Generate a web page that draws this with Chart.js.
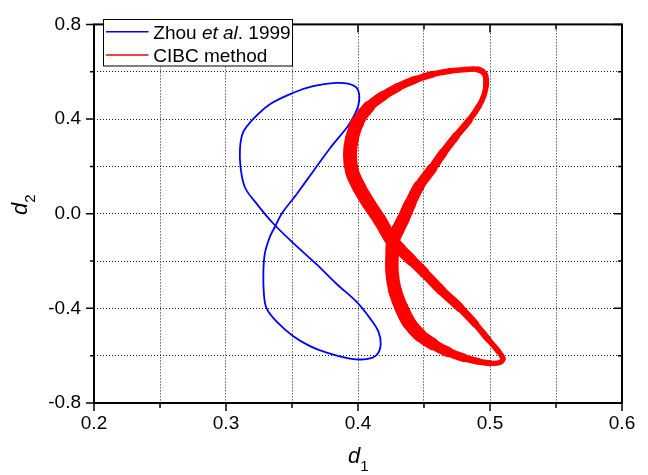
<!DOCTYPE html>
<html><head><meta charset="utf-8">
<script src="https://cdn.jsdelivr.net/npm/chart.js@4.4.1/dist/chart.umd.min.js"></script>
<style>html,body{margin:0;padding:0;background:#fff}#c{display:block}</style>
</head><body>
<canvas id="c" width="648" height="475"></canvas>
<script>
// ---- data ----
const seriesNames = ['Zhou et al. 1999', 'CIBC method'];
const xTickLabels = ['0.2', '0.3', '0.4', '0.5', '0.6'];
const yTickLabels = ['-0.8', '-0.4', '0.0', '0.4', '0.8'];

const zhouD1 = [0.3536,0.3661,0.3788,0.3927,0.3977,0.4002,0.4010,0.3990,0.3924,0.3839,0.3661,0.3510,0.3333,0.3207,0.3131,0.3106,0.3111,0.3144,0.3233,0.3358,0.3510,0.3687,0.3839,0.3990,0.4091,0.4154,0.4172,0.4142,0.4066,0.3939,0.3763,0.3636,0.3510,0.3384,0.3308,0.3288,0.3283,0.3295,0.3333,0.3371,0.3422,0.3536];
const zhouD2 = [0.0829,0.1795,0.2765,0.3731,0.4216,0.4560,0.4974,0.5318,0.5492,0.5526,0.5389,0.5111,0.4630,0.4008,0.3453,0.2765,0.1936,0.1107,0.0415,-0.0414,-0.1244,-0.2143,-0.2972,-0.3730,-0.4423,-0.4974,-0.5525,-0.5969,-0.6147,-0.6122,-0.5873,-0.5596,-0.5181,-0.4560,-0.4008,-0.3453,-0.2487,-0.1658,-0.0966,-0.0551,0.0000,0.0829];

const cibcD1 = [0.4811,0.4697,0.4561,0.4432,0.4303,0.4189,0.4083,0.4000,0.3955,0.3939,0.3955,0.4008,0.4083,0.4167,0.4250,0.4318,0.4402,0.4500,0.4629,0.4773,0.4886,0.4985,0.5061,0.5098,0.5068,0.5000,0.4909,0.4803,0.4682,0.4568,0.4470,0.4386,0.4326,0.4280,0.4258,0.4258,0.4265,0.4303,0.4341,0.4394,0.4462,0.4561,0.4644,0.4742,0.4841,0.4917,0.4955,0.4970,0.4962,0.4909,0.4811];
const cibcD2 = [0.6093,0.6031,0.5886,0.5658,0.5347,0.4974,0.4518,0.3896,0.3192,0.2487,0.1782,0.1119,0.0415,-0.0290,-0.1078,-0.1492,-0.1948,-0.2487,-0.3233,-0.3979,-0.4642,-0.5306,-0.5803,-0.6135,-0.6301,-0.6321,-0.6238,-0.6093,-0.5845,-0.5513,-0.5140,-0.4601,-0.3938,-0.3233,-0.2487,-0.1782,-0.1161,-0.0663,-0.0249,0.0415,0.1161,0.1907,0.2570,0.3275,0.3938,0.4560,0.5016,0.5430,0.5886,0.6093,0.6093];

// ---- style: stroke width (px) of the CIBC band at each point ----
const cibcBandPx = [5.5,5.5,6.5,7.5,8.5,9.5,11,13,14,14,14,14,13.5,13.5,13,12,11,10,9.5,8.5,7,6,5.5,5.5,5,5.5,6.5,7.5,9.5,11.5,13,14,14,13.5,13.5,13.5,13.5,13,13,12,11,9.5,8.5,7.5,6.5,5.5,5.5,5.5,6.5,5.5,5.5];

const FONT = '"Liberation Sans", Arial, sans-serif';
const BLUE = '#0000ff', RED = '#ff0000';
const pts = (xs, ys) => xs.map((v, i) => ({x: v, y: ys[i]}));
const findLabel = (arr, v) => { const s = arr.find(t => Math.abs(parseFloat(t) - v) < 1e-6); return s === undefined ? '' : s; };

const decor = {
  id: 'decor',
  afterDraw(chart) {
    const {ctx, chartArea: a, scales: {x, y}} = chart;
    ctx.save();
    // ticks
    ctx.strokeStyle = '#000'; ctx.lineWidth = 1.5;
    ctx.beginPath();
    x.ticks.forEach(t => {
      const px = x.getPixelForValue(t.value);
      const L = findLabel(xTickLabels, t.value) ? 8 : 5;
      ctx.moveTo(px, a.bottom); ctx.lineTo(px, a.bottom + L);
      ctx.moveTo(px, a.top); ctx.lineTo(px, a.top + L);
    });
    y.ticks.forEach(t => {
      const py = y.getPixelForValue(t.value);
      const L = findLabel(yTickLabels, t.value) ? 8 : 4;
      ctx.moveTo(a.left, py); ctx.lineTo(a.left - L, py);
      ctx.moveTo(a.right, py); ctx.lineTo(a.right - L, py);
    });
    ctx.stroke();
    // frame
    ctx.lineWidth = 2;
    ctx.strokeRect(a.left, a.top, a.right - a.left, a.bottom - a.top);

    // legend
    const lx = 103.5, ly = 19.5, lw = 189, lh = 46.5;
    ctx.fillStyle = '#fff'; ctx.fillRect(lx, ly, lw, lh);
    ctx.lineWidth = 1; ctx.strokeStyle = '#000'; ctx.strokeRect(lx, ly, lw, lh);
    ctx.lineWidth = 1.6;
    ctx.strokeStyle = BLUE; ctx.beginPath(); ctx.moveTo(106, 31.7); ctx.lineTo(148.5, 31.7); ctx.stroke();
    ctx.strokeStyle = RED; ctx.beginPath(); ctx.moveTo(106, 55); ctx.lineTo(148.5, 55); ctx.stroke();
    ctx.fillStyle = '#000'; ctx.textBaseline = 'alphabetic'; ctx.textAlign = 'left';
    const reg = '19px ' + FONT, ita = 'italic 19px ' + FONT;
    // "Zhou et al. 1999" with italic "et al."
    const parts = [['Zhou ', reg], ['et al', ita], ['. 1999', reg]];
    let tx = 153.3;
    parts.forEach(([s, f]) => { ctx.font = f; ctx.fillText(s, tx, 38.5); tx += ctx.measureText(s).width; });
    ctx.font = reg; ctx.fillText(seriesNames[1], 153.3, 61.7);

    // axis titles
    ctx.font = 'italic 22px ' + FONT;
    ctx.fillText('d', 348, 463);
    let dw = ctx.measureText('d').width;
    ctx.font = '15px ' + FONT;
    ctx.fillText('1', 348 + dw, 470.5);

    ctx.translate(27, 215);
    ctx.rotate(-Math.PI / 2);
    ctx.font = 'italic 22px ' + FONT;
    ctx.fillText('d', 0, 0);
    ctx.font = '15px ' + FONT;
    ctx.fillText('2', dw, 7.5);
    ctx.restore();
  }
};

new Chart(document.getElementById('c'), {
  type: 'scatter',
  data: {
    datasets: [
      {
        label: seriesNames[1],
        data: pts(cibcD1, cibcD2),
        showLine: true, fill: false, order: 0,
        borderColor: RED, borderWidth: 10,
        borderCapStyle: 'round', borderJoinStyle: 'round',
        tension: 0.35, pointRadius: 0, pointHoverRadius: 0,
        segment: { borderWidth: c => (cibcBandPx[c.p0DataIndex] + cibcBandPx[c.p1DataIndex]) / 2 }
      },
      {
        label: seriesNames[0],
        data: pts(zhouD1, zhouD2),
        showLine: true, fill: false, order: 1,
        borderColor: BLUE, borderWidth: 1.8,
        borderJoinStyle: 'round',
        tension: 0.35, pointRadius: 0, pointHoverRadius: 0
      }
    ]
  },
  options: {
    responsive: false, animation: false, devicePixelRatio: 1,
    layout: { padding: { left: 0, right: 26, top: 17, bottom: 0 } },
    plugins: { legend: { display: false }, tooltip: { enabled: false } },
    scales: {
      x: {
        type: 'linear', min: 0.2, max: 0.6,
        afterFit: s => { s.height = 72; },
        ticks: { stepSize: 0.05, autoSkip: false, maxRotation: 0, padding: 9, color: '#000',
                 font: { family: FONT, size: 19 }, callback: v => findLabel(xTickLabels, v) },
        grid: { color: '#1a1a1a', lineWidth: 1, drawTicks: false },
        border: { display: false, dash: [1, 2] }
      },
      y: {
        type: 'linear', min: -0.8, max: 0.8,
        afterFit: s => { s.width = 94; },
        ticks: { stepSize: 0.2, autoSkip: false, padding: 13, color: '#000',
                 font: { family: FONT, size: 19 }, callback: v => findLabel(yTickLabels, v) },
        grid: { color: '#1a1a1a', lineWidth: 1, drawTicks: false },
        border: { display: false, dash: [1, 2] }
      }
    }
  },
  plugins: [decor]
});
</script>
</body></html>
